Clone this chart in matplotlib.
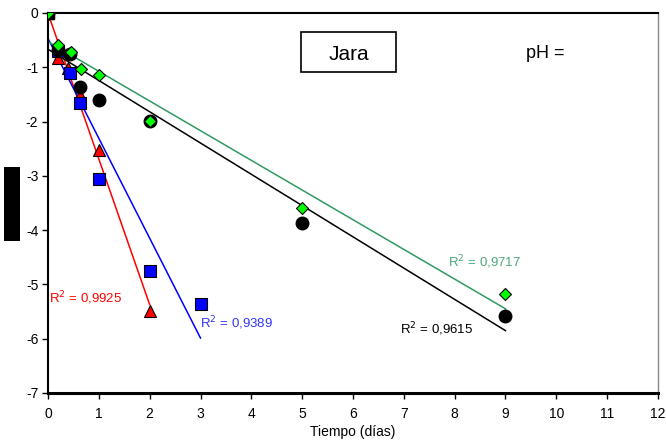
import numpy as np
import matplotlib
matplotlib.use("Agg")
import matplotlib.pyplot as plt
from matplotlib.patches import Rectangle

plt.rcParams['font.family'] = ['Liberation Sans', 'DejaVu Sans']
plt.rcParams['axes.unicode_minus'] = False

# Data (Tiempo in days, ln values)
x_black = [0, 0.2, 0.43, 0.62, 1, 2, 5, 9]
y_black = [0, -0.68, -0.75, -1.37, -1.61, -1.99, -3.87, -5.58]

x_green = [0, 0.2, 0.45, 0.64, 1, 2, 5, 9]
y_green = [0, -0.59, -0.71, -1.03, -1.14, -1.99, -3.59, -5.17]

x_red = [0, 0.2, 0.4, 0.62, 1, 2]
y_red = [0, -0.82, -1.02, -1.51, -2.52, -5.49]

x_blue = [0, 0.2, 0.43, 0.62, 1, 2, 3]
y_blue = [0, -0.7, -1.1, -1.65, -3.06, -4.75, -5.36]

x_ctrl = [0]
y_ctrl = [0]

r2_labels = {"red": "R$^2$ = 0,9925", "blue": "R$^2$ = 0,9389",
             "green": "R$^2$ = 0,9717", "black": "R$^2$ = 0,9615"}

x_ticks = list(range(0, 13))
y_ticks = list(range(-7, 1))

fig = plt.figure(figsize=(6.66, 4.43), dpi=100)
ax = fig.add_axes([48/666, 1-393/443, (658-48)/666, (393-13)/443])

def trend(xs, ys, color):
    p = np.polyfit(xs, ys, 1)
    xx = np.array([0, max(xs)])
    ax.plot(xx, np.polyval(p, xx), color=color, lw=1.1, zorder=2)

trend(x_red, y_red, '#FF0000')
trend(x_blue, y_blue, '#0000FF')
trend(x_green, y_green, '#2E9B62')
trend(x_black, y_black, '#000000')

ax.plot(x_red, y_red, '^', ms=8, mfc='#FF0000', mec='black', mew=0.8, ls='none', zorder=3)
ax.plot(x_blue, y_blue, 's', ms=8, mfc='#0000FF', mec='black', mew=0.8, ls='none', zorder=4)
ax.plot(x_black, y_black, 'o', ms=9, mfc='black', mec='black', ls='none', zorder=5)
ax.plot(x_ctrl, y_ctrl, 's', ms=8, mfc='black', mec='black', ls='none', zorder=5.5)
ax.plot(x_green, y_green, 'D', ms=6.5, mfc='#00FF00', mec='black', mew=0.8, ls='none', zorder=6)

ax.set_xlim(0, 12)
ax.set_ylim(-7, 0)
ax.set_xticks(x_ticks)
ax.set_yticks(y_ticks)
ax.tick_params(axis='both', direction='out', length=4, width=1, labelsize=10, pad=3)
ax.tick_params(axis='x', pad=6)
for s in ['left', 'bottom', 'top']:
    ax.spines[s].set_color('black')
ax.spines['left'].set_linewidth(1.5)
ax.spines['bottom'].set_linewidth(2.2)
ax.spines['top'].set_linewidth(1.5)
ax.spines['right'].set_color('#888888')
ax.spines['right'].set_linewidth(1.0)
ax.set_xlabel('Tiempo (días)', fontsize=10, labelpad=3)

# R2 labels
ax.text(0.02, -5.25, r2_labels["red"], color='#FF0000', fontsize=9.5, va='center')
ax.text(2.99, -5.71, r2_labels["blue"], color='#3333FF', fontsize=9.5, va='center')
ax.text(7.87, -4.59, r2_labels["green"], color='#4CA87A', fontsize=9.5, va='center')
ax.text(6.92, -5.82, r2_labels["black"], color='black', fontsize=9.5, va='center')

# Title box and pH text
ax.add_patch(Rectangle((4.98, -1.09), 1.87, 0.74, fc='white', ec='black', lw=1.2, zorder=7))
ax.text(5.92, -0.77, 'Jara', fontsize=15, ha='center', va='center', zorder=8)
fig.text(526/666, 1-53/443, 'pH =', fontsize=13, ha='left', va='center')

# redacted y label block
fig.patches.append(Rectangle((4/666, 1-241/443), 16/666, 74/443,
                             transform=fig.transFigure, fc='black', ec='none'))

fig.savefig('out.png', dpi=100)
